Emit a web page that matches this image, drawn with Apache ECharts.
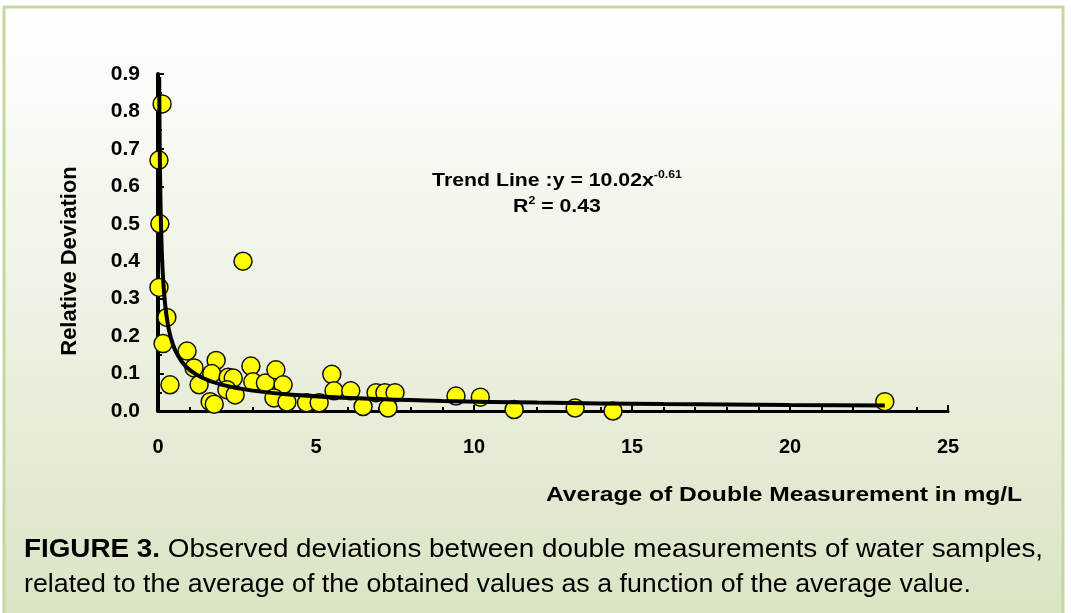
<!DOCTYPE html>
<html>
<head>
<meta charset="utf-8">
<script src="https://cdn.jsdelivr.net/npm/echarts@6/dist/echarts.min.js"></script>
<style>
  html, body { margin: 0; padding: 0; background: #ffffff; }
  #chart { width: 1071px; height: 613px; }
</style>
</head>
<body>
<div id="chart"></div>
<script>
// observed points
const avgValues = [0.13, 0.03, 0.06, 0.03, 0.28, 0.16, 0.38, 0.92, 1.14, 1.30, 1.84, 1.70, 2.22, 2.38,
  1.65, 1.78, 2.18, 2.44, 2.94, 3.00, 3.40, 3.73, 3.96, 3.67, 4.08, 4.70, 5.10, 5.50, 5.57, 6.10,
  6.49, 6.90, 7.18, 7.50, 7.28, 9.43, 10.20, 11.27, 13.20, 14.40, 23.00, 2.69];
const relDeviation = [0.82, 0.67, 0.50, 0.33, 0.25, 0.18, 0.07, 0.16, 0.115, 0.07, 0.135, 0.10, 0.09, 0.088,
  0.025, 0.018, 0.057, 0.043, 0.12, 0.078, 0.075, 0.11, 0.07, 0.035, 0.024, 0.022, 0.022, 0.098, 0.054, 0.054,
  0.012, 0.049, 0.049, 0.049, 0.008, 0.040, 0.037, 0.004, 0.008, 0.0, 0.025, 0.40];

// power trend line as drawn in the plot (y = a * x^b)
const trendA = 0.11;
const trendB = -0.64;
const trendXs = [0.038, 0.045, 0.055, 0.07, 0.09, 0.12, 0.16, 0.22, 0.3, 0.4, 0.55, 0.75, 1, 1.4, 2, 3, 4.5, 6.5, 9, 12, 16, 20, 23];

const xTicks = [0, 5, 10, 15, 20, 25];
const yMax = 0.9;

const chart = echarts.init(document.getElementById('chart'));

const points = avgValues.map((x, i) => [x, relDeviation[i]]);
const trend = trendXs.map(x => [x, trendA * Math.pow(x, trendB)]);

const font = 'Liberation Sans, Arial, sans-serif';
const bold = { color: '#000', fontFamily: font, fontWeight: 'bold' };
const captionRich = {
  b: { fontSize: 26, fontWeight: 'bold', color: '#151515', fontFamily: font },
  n: { fontSize: 26, color: '#151515', fontFamily: font }
};

chart.setOption({
  animation: false,
  backgroundColor: 'transparent',
  graphic: [
    {
      type: 'rect', z: -10, silent: true,
      shape: { x: 4, y: 7, width: 1059, height: 612 },
      style: {
        fill: new echarts.graphic.LinearGradient(0, 0, 0, 1, [
          { offset: 0, color: '#ffffff' },
          { offset: 0.45, color: '#eff3e6' },
          { offset: 1, color: '#d9e4c4' }
        ]),
        stroke: '#c4d79e', lineWidth: 3
      }
    },
    {
      type: 'text', x: 557, y: 181, scaleX: 1.12, z: 10,
      style: {
        text: '{a|Trend Line :y = 10.02x}{s|-0.61}',
        align: 'center', verticalAlign: 'middle',
        rich: {
          a: Object.assign({ fontSize: 19 }, bold),
          s: Object.assign({ fontSize: 11, padding: [0, 0, 12, 0] }, bold)
        }
      }
    },
    {
      type: 'text', x: 557, y: 207, scaleX: 1.12, z: 10,
      style: {
        text: '{a|R}{s|2}{a| = 0.43}',
        align: 'center', verticalAlign: 'middle',
        rich: {
          a: Object.assign({ fontSize: 19 }, bold),
          s: Object.assign({ fontSize: 11, padding: [0, 0, 12, 0] }, bold)
        }
      }
    },
    {
      type: 'text', x: 70, y: 261, rotation: Math.PI / 2,
      style: Object.assign({ text: 'Relative Deviation', fontSize: 22, align: 'center', verticalAlign: 'middle' }, bold)
    },
    {
      type: 'text', x: 546, y: 495, scaleX: 1.23,
      style: Object.assign({ text: 'Average of Double Measurement in mg/L', fontSize: 20, verticalAlign: 'middle' }, bold)
    },
    {
      type: 'text', x: 24, y: 550, scaleX: 1.07,
      style: {
        text: '{b|FIGURE 3.}{n| Observed deviations between double measurements of water samples,}',
        verticalAlign: 'middle', rich: captionRich
      }
    },
    {
      type: 'text', x: 24, y: 585, scaleX: 1.03,
      style: {
        text: '{n|related to the average of the obtained values as a function of the average value.}',
        verticalAlign: 'middle', rich: captionRich
      }
    }
  ],
  grid: { left: 158, right: 123, top: 74, bottom: 202 },
  xAxis: {
    type: 'value', min: 0, max: 25, interval: 5,
    axisLine: { lineStyle: { color: '#000', width: 3 } },
    axisTick: { inside: true, length: 6, lineStyle: { color: '#000', width: 2 } },
    minorTick: { show: true, splitNumber: 5, length: 4, lineStyle: { color: '#000', width: 2 } },
    splitLine: { show: false },
    axisLabel: Object.assign({ fontSize: 20, margin: 26, formatter: v => xTicks.includes(v) ? String(v) : '' }, bold)
  },
  yAxis: {
    type: 'value', min: 0, max: yMax, interval: 0.1,
    axisLine: { lineStyle: { color: '#000', width: 4 } },
    axisTick: { inside: true, length: 6, lineStyle: { color: '#000', width: 2 } },
    minorTick: { show: true, splitNumber: 2, length: 4, lineStyle: { color: '#000', width: 2 } },
    splitLine: { show: false },
    axisLabel: Object.assign({ fontSize: 21, margin: 18, formatter: v => v.toFixed(1) }, bold)
  },
  series: [
    {
      type: 'scatter', data: points, symbolSize: 18, z: 2,
      itemStyle: { color: '#ffff00', borderColor: '#111', borderWidth: 1.5, opacity: 1 }
    },
    {
      type: 'line', data: trend, smooth: true, showSymbol: false, z: 3,
      lineStyle: { color: '#000', width: 4 }
    }
  ]
});
</script>
</body>
</html>
